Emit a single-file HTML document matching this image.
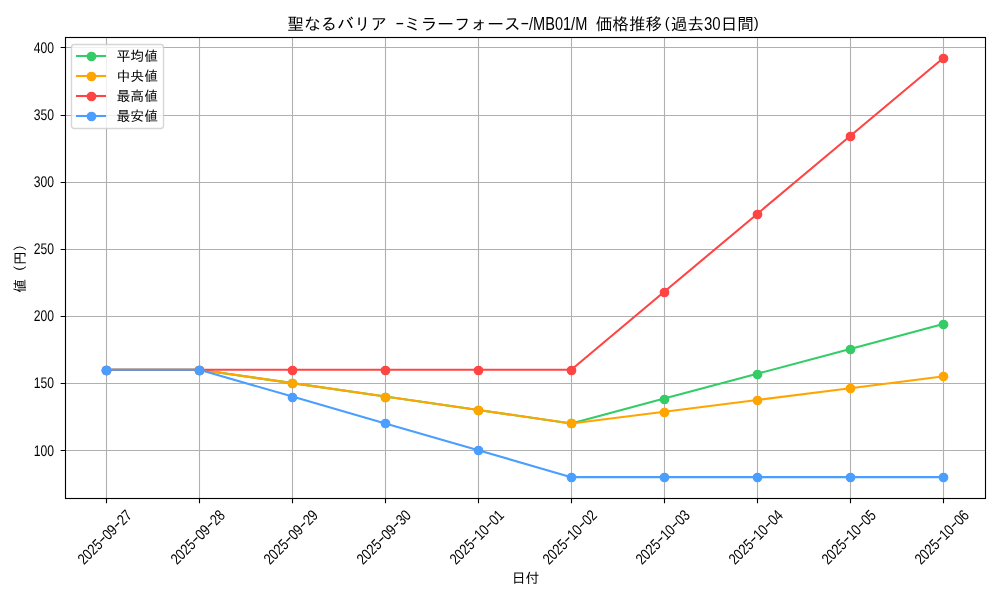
<!DOCTYPE html>
<html lang="ja"><head><meta charset="utf-8"><title>聖なるバリア -ミラーフォース-/MB01/M 価格推移</title>
<style>html,body{margin:0;padding:0;background:#fff;width:1000px;height:600px;overflow:hidden}svg{display:block}</style>
</head><body>
<svg width="1000" height="600" viewBox="0 0 1000 600">
<rect width="1000" height="600" fill="#ffffff"/>
<path d="M106.5 37.5V498.5M199.5 37.5V498.5M292.5 37.5V498.5M385.5 37.5V498.5M478.5 37.5V498.5M571.5 37.5V498.5M664.5 37.5V498.5M757.5 37.5V498.5M850.5 37.5V498.5M943.5 37.5V498.5M65.5 450.5H985.5M65.5 383.5H985.5M65.5 316.5H985.5M65.5 249.5H985.5M65.5 182.5H985.5M65.5 115.5H985.5M65.5 47.5H985.5" stroke="#b0b0b0" stroke-width="1.111" fill="none"/>
<path d="M106.5 498.5v4.861M199.5 498.5v4.861M292.5 498.5v4.861M385.5 498.5v4.861M478.5 498.5v4.861M571.5 498.5v4.861M664.5 498.5v4.861M757.5 498.5v4.861M850.5 498.5v4.861M943.5 498.5v4.861M65.5 450.5h-4.861M65.5 383.5h-4.861M65.5 316.5h-4.861M65.5 249.5h-4.861M65.5 182.5h-4.861M65.5 115.5h-4.861M65.5 47.5h-4.861" stroke="#000" stroke-width="1.111" fill="none"/>
<defs><clipPath id="c"><rect x="64.6" y="37.2" width="920.40" height="460.90"/></clipPath></defs>
<g clip-path="url(#c)">
<polyline points="106.44,369.71 199.41,369.71 292.38,383.14 385.35,396.57 478.32,410.00 571.28,423.43 664.25,398.59 757.22,373.74 850.19,348.90 943.16,324.05" fill="none" stroke="#33cc66" stroke-width="2.083" stroke-linejoin="round" stroke-linecap="square"/>
<g fill="#33cc66" stroke="#33cc66" stroke-width="1.389"><circle cx="106.5" cy="370.5" r="4.167"/><circle cx="199.5" cy="370.5" r="4.167"/><circle cx="292.5" cy="383.5" r="4.167"/><circle cx="385.5" cy="397.5" r="4.167"/><circle cx="478.5" cy="410.5" r="4.167"/><circle cx="571.5" cy="423.5" r="4.167"/><circle cx="664.5" cy="399.5" r="4.167"/><circle cx="757.5" cy="374.5" r="4.167"/><circle cx="850.5" cy="349.5" r="4.167"/><circle cx="943.5" cy="324.5" r="4.167"/></g>
<polyline points="106.44,369.71 199.41,369.71 292.38,383.14 385.35,396.57 478.32,410.00 571.28,423.43 664.25,411.68 757.22,399.93 850.19,388.18 943.16,376.43" fill="none" stroke="#ffa500" stroke-width="2.083" stroke-linejoin="round" stroke-linecap="square"/>
<g fill="#ffa500" stroke="#ffa500" stroke-width="1.389"><circle cx="106.5" cy="370.5" r="4.167"/><circle cx="199.5" cy="370.5" r="4.167"/><circle cx="292.5" cy="383.5" r="4.167"/><circle cx="385.5" cy="397.5" r="4.167"/><circle cx="478.5" cy="410.5" r="4.167"/><circle cx="571.5" cy="423.5" r="4.167"/><circle cx="664.5" cy="412.5" r="4.167"/><circle cx="757.5" cy="400.5" r="4.167"/><circle cx="850.5" cy="388.5" r="4.167"/><circle cx="943.5" cy="376.5" r="4.167"/></g>
<polyline points="106.44,369.71 199.41,369.71 292.38,369.71 385.35,369.71 478.32,369.71 571.28,369.71 664.25,291.82 757.22,213.93 850.19,136.04 943.16,58.15" fill="none" stroke="#ff4444" stroke-width="2.083" stroke-linejoin="round" stroke-linecap="square"/>
<g fill="#ff4444" stroke="#ff4444" stroke-width="1.389"><circle cx="106.5" cy="370.5" r="4.167"/><circle cx="199.5" cy="370.5" r="4.167"/><circle cx="292.5" cy="370.5" r="4.167"/><circle cx="385.5" cy="370.5" r="4.167"/><circle cx="478.5" cy="370.5" r="4.167"/><circle cx="571.5" cy="370.5" r="4.167"/><circle cx="664.5" cy="292.5" r="4.167"/><circle cx="757.5" cy="214.5" r="4.167"/><circle cx="850.5" cy="136.5" r="4.167"/><circle cx="943.5" cy="58.5" r="4.167"/></g>
<polyline points="106.44,369.71 199.41,369.71 292.38,396.57 385.35,423.43 478.32,450.29 571.28,477.15 664.25,477.15 757.22,477.15 850.19,477.15 943.16,477.15" fill="none" stroke="#4a9eff" stroke-width="2.083" stroke-linejoin="round" stroke-linecap="square"/>
<g fill="#4a9eff" stroke="#4a9eff" stroke-width="1.389"><circle cx="106.5" cy="370.5" r="4.167"/><circle cx="199.5" cy="370.5" r="4.167"/><circle cx="292.5" cy="397.5" r="4.167"/><circle cx="385.5" cy="423.5" r="4.167"/><circle cx="478.5" cy="450.5" r="4.167"/><circle cx="571.5" cy="477.5" r="4.167"/><circle cx="664.5" cy="477.5" r="4.167"/><circle cx="757.5" cy="477.5" r="4.167"/><circle cx="850.5" cy="477.5" r="4.167"/><circle cx="943.5" cy="477.5" r="4.167"/></g>
</g>
<rect x="65.5" y="37.5" width="920.0" height="461.0" fill="none" stroke="#000" stroke-width="1.111" stroke-linecap="square"/>
<g style="font-size:15.4px;font-family:'Liberation Sans','IPAGothic',sans-serif" text-rendering="geometricPrecision" fill="#000">
<text transform="translate(83.90 565.35) rotate(-45)"><tspan x="0" y="0" textLength="27.78" lengthAdjust="spacingAndGlyphs">2025</tspan><tspan x="27.46" y="-1.2" textLength="7.54" lengthAdjust="spacingAndGlyphs">-</tspan><tspan x="34.72" y="0" textLength="13.89" lengthAdjust="spacingAndGlyphs">09</tspan><tspan x="48.29" y="-1.2" textLength="7.54" lengthAdjust="spacingAndGlyphs">-</tspan><tspan x="55.56" y="0" textLength="13.89" lengthAdjust="spacingAndGlyphs">27</tspan></text>
<text transform="translate(176.90 565.35) rotate(-45)"><tspan x="0" y="0" textLength="27.78" lengthAdjust="spacingAndGlyphs">2025</tspan><tspan x="27.46" y="-1.2" textLength="7.54" lengthAdjust="spacingAndGlyphs">-</tspan><tspan x="34.72" y="0" textLength="13.89" lengthAdjust="spacingAndGlyphs">09</tspan><tspan x="48.29" y="-1.2" textLength="7.54" lengthAdjust="spacingAndGlyphs">-</tspan><tspan x="55.56" y="0" textLength="13.89" lengthAdjust="spacingAndGlyphs">28</tspan></text>
<text transform="translate(269.90 565.35) rotate(-45)"><tspan x="0" y="0" textLength="27.78" lengthAdjust="spacingAndGlyphs">2025</tspan><tspan x="27.46" y="-1.2" textLength="7.54" lengthAdjust="spacingAndGlyphs">-</tspan><tspan x="34.72" y="0" textLength="13.89" lengthAdjust="spacingAndGlyphs">09</tspan><tspan x="48.29" y="-1.2" textLength="7.54" lengthAdjust="spacingAndGlyphs">-</tspan><tspan x="55.56" y="0" textLength="13.89" lengthAdjust="spacingAndGlyphs">29</tspan></text>
<text transform="translate(362.90 565.35) rotate(-45)"><tspan x="0" y="0" textLength="27.78" lengthAdjust="spacingAndGlyphs">2025</tspan><tspan x="27.46" y="-1.2" textLength="7.54" lengthAdjust="spacingAndGlyphs">-</tspan><tspan x="34.72" y="0" textLength="13.89" lengthAdjust="spacingAndGlyphs">09</tspan><tspan x="48.29" y="-1.2" textLength="7.54" lengthAdjust="spacingAndGlyphs">-</tspan><tspan x="55.56" y="0" textLength="13.89" lengthAdjust="spacingAndGlyphs">30</tspan></text>
<text transform="translate(455.90 565.35) rotate(-45)"><tspan x="0" y="0" textLength="27.78" lengthAdjust="spacingAndGlyphs">2025</tspan><tspan x="27.46" y="-1.2" textLength="7.54" lengthAdjust="spacingAndGlyphs">-</tspan><tspan x="34.72" y="0" textLength="13.89" lengthAdjust="spacingAndGlyphs">10</tspan><tspan x="48.29" y="-1.2" textLength="7.54" lengthAdjust="spacingAndGlyphs">-</tspan><tspan x="55.56" y="0" textLength="13.89" lengthAdjust="spacingAndGlyphs">01</tspan></text>
<text transform="translate(548.90 565.35) rotate(-45)"><tspan x="0" y="0" textLength="27.78" lengthAdjust="spacingAndGlyphs">2025</tspan><tspan x="27.46" y="-1.2" textLength="7.54" lengthAdjust="spacingAndGlyphs">-</tspan><tspan x="34.72" y="0" textLength="13.89" lengthAdjust="spacingAndGlyphs">10</tspan><tspan x="48.29" y="-1.2" textLength="7.54" lengthAdjust="spacingAndGlyphs">-</tspan><tspan x="55.56" y="0" textLength="13.89" lengthAdjust="spacingAndGlyphs">02</tspan></text>
<text transform="translate(641.90 565.35) rotate(-45)"><tspan x="0" y="0" textLength="27.78" lengthAdjust="spacingAndGlyphs">2025</tspan><tspan x="27.46" y="-1.2" textLength="7.54" lengthAdjust="spacingAndGlyphs">-</tspan><tspan x="34.72" y="0" textLength="13.89" lengthAdjust="spacingAndGlyphs">10</tspan><tspan x="48.29" y="-1.2" textLength="7.54" lengthAdjust="spacingAndGlyphs">-</tspan><tspan x="55.56" y="0" textLength="13.89" lengthAdjust="spacingAndGlyphs">03</tspan></text>
<text transform="translate(734.90 565.35) rotate(-45)"><tspan x="0" y="0" textLength="27.78" lengthAdjust="spacingAndGlyphs">2025</tspan><tspan x="27.46" y="-1.2" textLength="7.54" lengthAdjust="spacingAndGlyphs">-</tspan><tspan x="34.72" y="0" textLength="13.89" lengthAdjust="spacingAndGlyphs">10</tspan><tspan x="48.29" y="-1.2" textLength="7.54" lengthAdjust="spacingAndGlyphs">-</tspan><tspan x="55.56" y="0" textLength="13.89" lengthAdjust="spacingAndGlyphs">04</tspan></text>
<text transform="translate(827.90 565.35) rotate(-45)"><tspan x="0" y="0" textLength="27.78" lengthAdjust="spacingAndGlyphs">2025</tspan><tspan x="27.46" y="-1.2" textLength="7.54" lengthAdjust="spacingAndGlyphs">-</tspan><tspan x="34.72" y="0" textLength="13.89" lengthAdjust="spacingAndGlyphs">10</tspan><tspan x="48.29" y="-1.2" textLength="7.54" lengthAdjust="spacingAndGlyphs">-</tspan><tspan x="55.56" y="0" textLength="13.89" lengthAdjust="spacingAndGlyphs">05</tspan></text>
<text transform="translate(920.90 565.35) rotate(-45)"><tspan x="0" y="0" textLength="27.78" lengthAdjust="spacingAndGlyphs">2025</tspan><tspan x="27.46" y="-1.2" textLength="7.54" lengthAdjust="spacingAndGlyphs">-</tspan><tspan x="34.72" y="0" textLength="13.89" lengthAdjust="spacingAndGlyphs">10</tspan><tspan x="48.29" y="-1.2" textLength="7.54" lengthAdjust="spacingAndGlyphs">-</tspan><tspan x="55.56" y="0" textLength="13.89" lengthAdjust="spacingAndGlyphs">06</tspan></text>
</g>
<g style="font-size:15.4px;font-family:'Liberation Sans','IPAGothic',sans-serif" text-rendering="geometricPrecision" fill="#000">
<text x="33.80" y="456.00" textLength="20.3" lengthAdjust="spacingAndGlyphs">100</text>
<text x="33.80" y="388.00" textLength="20.3" lengthAdjust="spacingAndGlyphs">150</text>
<text x="33.80" y="321.00" textLength="20.3" lengthAdjust="spacingAndGlyphs">200</text>
<text x="33.80" y="254.00" textLength="20.3" lengthAdjust="spacingAndGlyphs">250</text>
<text x="33.80" y="187.00" textLength="20.3" lengthAdjust="spacingAndGlyphs">300</text>
<text x="33.80" y="120.00" textLength="20.3" lengthAdjust="spacingAndGlyphs">350</text>
<text x="33.80" y="53.00" textLength="20.3" lengthAdjust="spacingAndGlyphs">400</text>
</g>
<text x="525.60" y="583.00" text-anchor="middle" style="font-size:13.889px;font-family:'Liberation Sans','IPAGothic',sans-serif" fill="#000">日付</text>
<text transform="translate(25.00 265.00) rotate(-90)" text-anchor="middle" style="font-size:13.889px;font-family:'Liberation Sans','IPAGothic',sans-serif" fill="#000">値（円）</text>
<text y="30.0" style="font-size:16.667px;font-family:'Liberation Sans','IPAGothic',sans-serif;white-space:pre" fill="#000"><tspan x="287.30">聖なるバリア </tspan><tspan x="395.26" y="28" textLength="9.10" lengthAdjust="spacingAndGlyphs">-</tspan><tspan x="403.97" y="30.0">ミラーフォース</tspan><tspan x="520.26" y="28" textLength="9.10" lengthAdjust="spacingAndGlyphs">-</tspan><tspan x="528.97" y="30.0" style="font-size:17.5px" textLength="58.33" lengthAdjust="spacingAndGlyphs">/MB01/M</tspan><tspan x="591.01"> 価格推移</tspan><tspan x="664.69" y="28" style="font-size:14.9px">(</tspan><tspan x="670.64" y="30.0">過去</tspan><tspan x="703.98" style="font-size:17.5px" textLength="16.67" lengthAdjust="spacingAndGlyphs">30</tspan><tspan x="720.64">日間</tspan><tspan x="753.68" y="28" style="font-size:14.9px">)</tspan></text>
<rect x="71.50" y="44.50" width="92.00" height="84.00" rx="2.78" fill="#ffffff" fill-opacity="0.8" stroke="#cccccc" stroke-opacity="0.8" stroke-width="1.389"/>
<path d="M77 56H105" stroke="#33cc66" stroke-width="2.083" stroke-linecap="square"/>
<circle cx="91.50" cy="56.50" r="4.167" fill="#33cc66" stroke="#33cc66" stroke-width="1.389"/>
<text x="116.49" y="60.55" style="font-size:13.889px;font-family:'Liberation Sans','IPAGothic',sans-serif" fill="#000">平均値</text>
<path d="M77 76H105" stroke="#ffa500" stroke-width="2.083" stroke-linecap="square"/>
<circle cx="91.50" cy="76.50" r="4.167" fill="#ffa500" stroke="#ffa500" stroke-width="1.389"/>
<text x="116.49" y="80.55" style="font-size:13.889px;font-family:'Liberation Sans','IPAGothic',sans-serif" fill="#000">中央値</text>
<path d="M77 96H105" stroke="#ff4444" stroke-width="2.083" stroke-linecap="square"/>
<circle cx="91.50" cy="96.50" r="4.167" fill="#ff4444" stroke="#ff4444" stroke-width="1.389"/>
<text x="116.49" y="100.55" style="font-size:13.889px;font-family:'Liberation Sans','IPAGothic',sans-serif" fill="#000">最高値</text>
<path d="M77 116H105" stroke="#4a9eff" stroke-width="2.083" stroke-linecap="square"/>
<circle cx="91.50" cy="116.50" r="4.167" fill="#4a9eff" stroke="#4a9eff" stroke-width="1.389"/>
<text x="116.49" y="120.55" style="font-size:13.889px;font-family:'Liberation Sans','IPAGothic',sans-serif" fill="#000">最安値</text>
</svg>
</body></html>
